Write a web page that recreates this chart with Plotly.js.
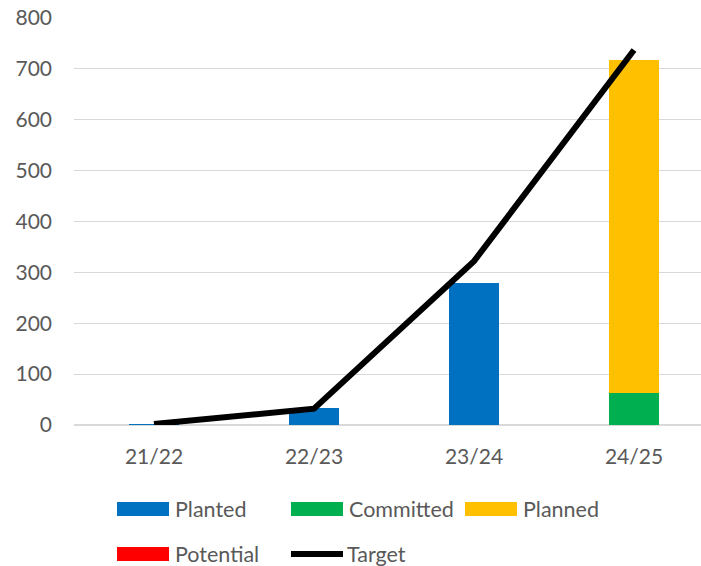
<!DOCTYPE html>
<html>
<head>
<meta charset="utf-8">
<script src="https://cdn.plot.ly/plotly-3.0.1.min.js"></script>
<style>html,body{margin:0;padding:0;background:#fff;}#chart{width:701px;height:566px;}</style>
</head>
<body>
<div id="chart"></div>
<script>
const categories = ["21/22", "22/23", "23/24", "24/25"];
const planted   = [1, 33, 279, 0];
const committed = [0, 0, 0, 63];
const planned   = [0, 0, 0, 655];
const potential = [0, 0, 0, 0];
const target    = [2, 32, 322, 737];
const yTicks = [0, 100, 200, 300, 400, 500, 600, 700, 800];

const colors = {Planted: "#0070C0", Committed: "#00B050", Planned: "#FFC000", Potential: "#FF0000", Target: "#000000"};
const FONT = "Lato, 'Liberation Sans', sans-serif";
const GRAY = "#595959";

// plot area in pixels
const L = 74, R = 701, T = 18, B = 425, W = 701, H = 566;
const px2x = p => (p - L) / (R - L);
const px2y = p => (B - p) / (B - T);

function barTrace(name, vals) {
  return {type: "bar", name: name, x: categories, y: vals, marker: {color: colors[name]},
          width: 0.31, showlegend: false, hoverinfo: "x+y+name"};
}
const traces = [
  barTrace("Planted", planted),
  barTrace("Committed", committed),
  barTrace("Planned", planned),
  barTrace("Potential", potential),
  {type: "scatter", mode: "lines", name: "Target", x: categories, y: target,
   line: {color: colors.Target, width: 6}, showlegend: false}
];

// custom legend matching the reference layout
const legendItems = [
  {name: "Planted",   kind: "bar",  x: 117, y: 509},
  {name: "Committed", kind: "bar",  x: 291, y: 509},
  {name: "Planned",   kind: "bar",  x: 465, y: 509},
  {name: "Potential", kind: "bar",  x: 117, y: 554},
  {name: "Target",    kind: "line", x: 289, y: 554}
];
const shapes = [], annotations = [];
legendItems.forEach(it => {
  if (it.kind === "bar") {
    shapes.push({type: "rect", xref: "paper", yref: "paper",
      x0: px2x(it.x), x1: px2x(it.x + 52), y0: px2y(it.y + 7), y1: px2y(it.y - 7),
      fillcolor: colors[it.name], line: {width: 0}});
  } else {
    shapes.push({type: "line", xref: "paper", yref: "paper",
      x0: px2x(it.x + 2), x1: px2x(it.x + 54), y0: px2y(it.y), y1: px2y(it.y),
      line: {color: colors[it.name], width: 6}});
  }
  annotations.push({xref: "paper", yref: "paper", x: px2x(it.x + 56), y: px2y(it.y),
    xanchor: "left", yanchor: "middle", text: it.name, showarrow: false,
    font: {family: FONT, size: 21.5, color: GRAY}});
});

const layout = {
  width: W, height: H,
  margin: {l: L, r: W - R, t: T, b: H - B, pad: 0},
  paper_bgcolor: "#fff", plot_bgcolor: "#fff",
  barmode: "stack",
  showlegend: false,
  font: {family: FONT, size: 21, color: GRAY},
  xaxis: {type: "category", range: [-0.5, -0.5 + (R - L) / 160], showgrid: false,
          showline: false, zeroline: false, ticks: "", ticklabelstandoff: 17,
          tickfont: {family: FONT, size: 21, color: GRAY}, fixedrange: true},
  yaxis: {range: [0, 800], tickvals: yTicks, ticktext: yTicks.map(String),
          showgrid: true, gridcolor: "#d9d9d9", gridwidth: 1,
          zeroline: true, zerolinecolor: "#d9d9d9", zerolinewidth: 1.5,
          showline: false, ticks: "", ticklabelstandoff: 21,
          tickfont: {family: FONT, size: 21, color: GRAY}, fixedrange: true},
  shapes: shapes,
  annotations: annotations
};

Plotly.newPlot("chart", traces, layout, {displayModeBar: false, staticPlot: true});
</script>
</body>
</html>
